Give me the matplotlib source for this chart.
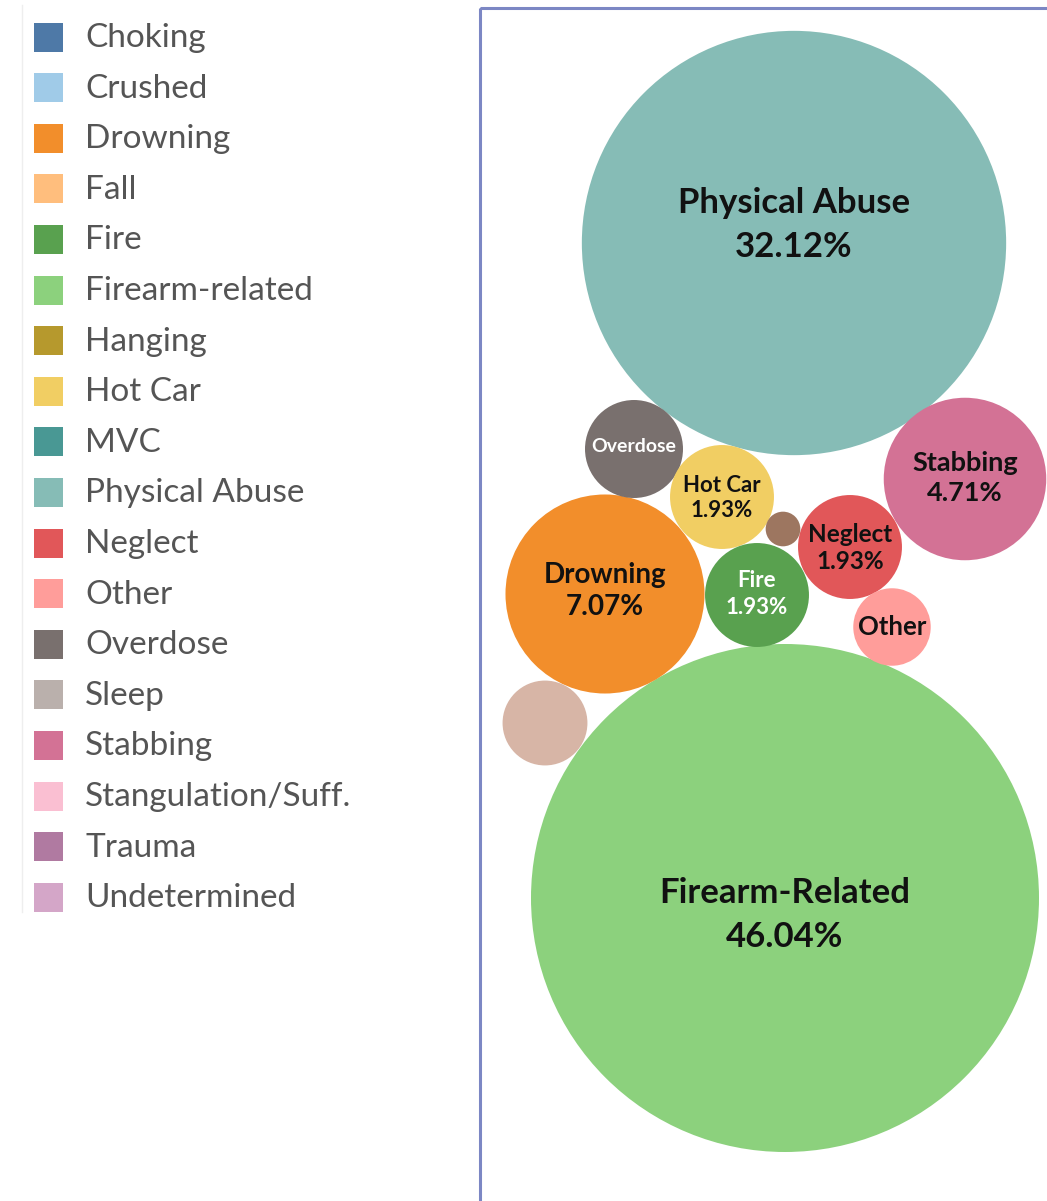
import numpy as np
import matplotlib.pyplot as plt
from matplotlib.patches import Circle, Rectangle

# legend categories (tableau 20 palette)
legend_names = ['Choking', 'Crushed', 'Drowning', 'Fall', 'Fire', 'Firearm-related',
                'Hanging', 'Hot Car', 'MVC', 'Physical Abuse', 'Neglect', 'Other',
                'Overdose', 'Sleep', 'Stabbing', 'Stangulation/Suff.', 'Trauma',
                'Undetermined']
legend_colors = ['#4E79A7', '#A0CBE8', '#F28E2B', '#FFBE7D', '#59A14F', '#8CD17D',
                 '#B6992D', '#F1CE63', '#499894', '#86BCB6', '#E15759', '#FF9D9A',
                 '#79706E', '#BAB0AC', '#D37295', '#FABFD2', '#B07AA1', '#D4A6C8']

# bubble data: case counts out of the total
bubble_names = ['Physical Abuse', 'Firearm-Related', 'Stabbing', 'Drowning', 'Overdose',
                'Hot Car', 'Neglect', 'Fire', 'Other', 'Sleep', 'Trauma']
bubble_counts = [150, 215, 22, 33, 8, 9, 9, 9, 5, 6, 1]
bubble_colors = ['#86BCB6', '#8CD17D', '#D37295', '#F28E2B', '#79706E',
                 '#F1CE63', '#E15759', '#59A14F', '#FF9D9A', '#D7B5A6', '#9D7660']

# packed layout (centres in canvas units)
bubble_x = [794, 785, 965, 605, 634, 722, 850, 757, 892, 545, 783]
bubble_y = [243, 898, 479, 594, 449, 497, 547, 595, 627, 723, 529]
label_dy = [-18, 17, -1, -3, -2, 1, 1, -1, 0, 0, 0]
label_size = [25, 25, 19.5, 20, 14, 16, 17.5, 16, 18.5, 0, 0]
label_spacing = [1.45, 1.45, 1.3, 1.25, 1.3, 1.2, 1.25, 1.35, 1.3, 1.3, 1.3]
label_color = ['#111111', '#111111', '#111111', '#111111', 'white',
               '#111111', '#111111', 'white', '#111111', '#111111', '#111111']

total = sum(bubble_counts)
pcts = [100.0 * c / total for c in bubble_counts]
scale = 254 / np.sqrt(max(bubble_counts))

fig = plt.figure(figsize=(10.47, 12.01), dpi=100)
ax = fig.add_axes([0, 0, 1, 1])
ax.set_xlim(0, 1047)
ax.set_ylim(1201, 0)
ax.set_aspect('equal')
ax.axis('off')

# frame around the bubble area
ax.add_patch(Rectangle((480, 8), 700, 1300, fill=False, edgecolor='#7C87C4',
                       linewidth=2.2, zorder=1))
ax.plot([22, 22], [5, 912], color='#EEEEEE', linewidth=1)

for i, name in enumerate(bubble_names):
    r = scale * np.sqrt(bubble_counts[i])
    ax.add_patch(Circle((bubble_x[i], bubble_y[i]), r, facecolor=bubble_colors[i],
                        edgecolor='none', zorder=2))
    if label_size[i] == 0:
        continue
    if bubble_counts[i] >= 9:
        txt = '{}\n{:.2f}%'.format(name, pcts[i])
    else:
        txt = name
    ax.text(bubble_x[i], bubble_y[i] + label_dy[i], txt, ha='center', va='center',
            fontsize=label_size[i], fontweight='bold', color=label_color[i],
            family='Lato', linespacing=label_spacing[i], zorder=3)

# legend
for i, name in enumerate(legend_names):
    y = 37 + i * 50.6
    ax.add_patch(Rectangle((34, y - 14.5), 29, 29, facecolor=legend_colors[i],
                           edgecolor='none'))
    ax.text(85, y + 1, name, ha='left', va='center', fontsize=24, color='#555555',
            family='Lato')

fig.savefig('out.png', dpi=100)
